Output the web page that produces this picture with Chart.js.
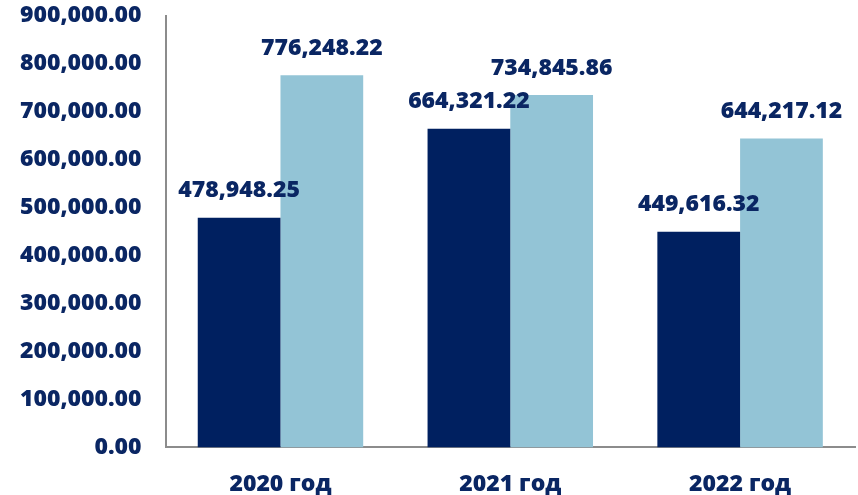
<!DOCTYPE html>
<html>
<head>
<meta charset="utf-8">
<script src="https://cdn.jsdelivr.net/npm/chart.js@4/dist/chart.umd.min.js"></script>
<style>
  html, body { margin: 0; padding: 0; background: #fff; }
  #wrap { width: 858px; height: 495px; }
</style>
</head>
<body>
<div id="wrap"><canvas id="barChart"></canvas></div>
<script>
"use strict";

const years = ["2020 год", "2021 год", "2022 год"];
const seriesDark = [478948.25, 664321.22, 449616.32];
const seriesLight = [776248.22, 734845.86, 644217.12];
const yTicks = [0, 100000, 200000, 300000, 400000, 500000, 600000, 700000, 800000, 900000];

const textColor = "#0A2663";
const fontFamily = "'Open Sans', 'Liberation Sans', sans-serif";

function fmt(v) {
  return v.toLocaleString("en-US", { minimumFractionDigits: 2, maximumFractionDigits: 2 });
}

// value labels above each bar
const valueLabels = {
  id: "valueLabels",
  afterDatasetsDraw(chart) {
    const ctx = chart.ctx;
    ctx.save();
    ctx.font = "800 23px " + fontFamily;
    ctx.fillStyle = textColor;
    ctx.textAlign = "center";
    ctx.textBaseline = "middle";
    chart.data.datasets.forEach(function (ds, i) {
      const meta = chart.getDatasetMeta(i);
      meta.data.forEach(function (bar, j) {
        ctx.fillText(fmt(ds.data[j]), bar.x, bar.y - 27);
      });
    });
    ctx.restore();
  }
};

const ctx = document.getElementById("barChart").getContext("2d");

new Chart(ctx, {
  type: "bar",
  data: {
    labels: years,
    datasets: [
      {
        label: "dark",
        data: seriesDark,
        backgroundColor: "#002060",
      },
      {
        label: "light",
        data: seriesLight,
        backgroundColor: "#93C4D6",
      },
    ],
  },
  options: {
    responsive: true,
    maintainAspectRatio: false,
    animation: false,
    categoryPercentage: 0.72,
    barPercentage: 1.0,
    layout: {
      padding: { top: 0, right: 3, left: 18, bottom: -5 },
    },
    plugins: {
      legend: { display: false },
      tooltip: { enabled: false },
    },
    scales: {
      x: {
        grid: { display: false, drawTicks: true, tickLength: 21 },
        border: { color: "#8C8C8C", width: 2 },
        ticks: {
          color: textColor,
          padding: 2,
          font: { family: fontFamily, size: 23, weight: "800" },
        },
      },
      y: {
        min: 0,
        max: 900000,
        grid: { display: false, drawTicks: true, tickLength: 22 },
        border: { color: "#8C8C8C", width: 2 },
        afterBuildTicks(axis) {
          axis.ticks = yTicks.map(function (v) { return { value: v }; });
        },
        ticks: {
          color: textColor,
          padding: 2,
          font: { family: fontFamily, size: 23, weight: "800" },
          callback: function (v) { return fmt(v); },
        },
      },
    },
  },
  plugins: [valueLabels],
});
</script>
</body>
</html>
